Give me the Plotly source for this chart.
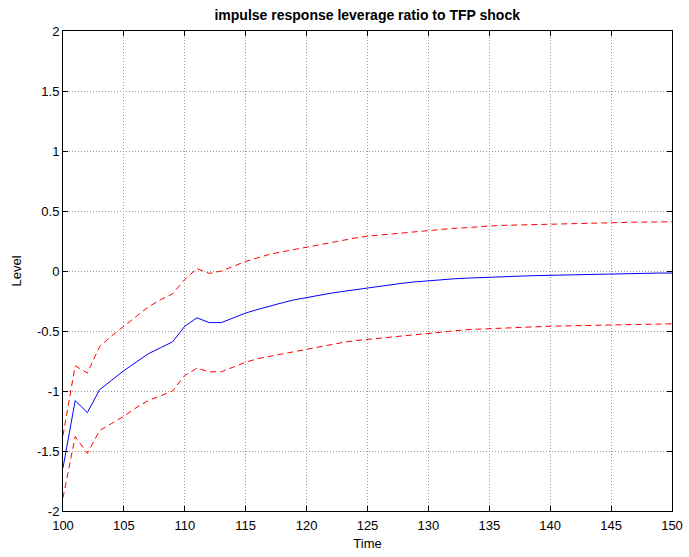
import plotly.graph_objects as go

time = list(range(100, 151))
mean_resp = [-1.64, -1.08, -1.18, -0.99, -0.91, -0.83, -0.76, -0.69, -0.64, -0.59,
             -0.46, -0.39, -0.43, -0.43, -0.39, -0.35, -0.32, -0.29, -0.265, -0.24,
             -0.22, -0.20, -0.185, -0.17, -0.155, -0.14, -0.13, -0.115, -0.10, -0.09,
             -0.08, -0.073, -0.066, -0.06, -0.055, -0.05, -0.047, -0.044, -0.041, -0.038,
             -0.036, -0.033, -0.03, -0.027, -0.024, -0.02, -0.019, -0.018, -0.018, -0.017,
             -0.017]
upper = [-1.37, -0.79, -0.85, -0.63, -0.54, -0.46, -0.38, -0.30, -0.24, -0.19,
         -0.07, 0.02, -0.02, 0.00, 0.04, 0.08, 0.11, 0.14, 0.16, 0.18,
         0.20, 0.22, 0.24, 0.26, 0.275, 0.29, 0.30, 0.31, 0.32, 0.33,
         0.34, 0.35, 0.355, 0.36, 0.37, 0.375, 0.38, 0.383, 0.386, 0.388,
         0.39, 0.393, 0.396, 0.399, 0.402, 0.405, 0.406, 0.407, 0.408, 0.409,
         0.41]
lower = [-1.89, -1.38, -1.52, -1.33, -1.27, -1.21, -1.14, -1.08, -1.04, -1.00,
         -0.87, -0.81, -0.84, -0.84, -0.80, -0.76, -0.73, -0.71, -0.69, -0.67,
         -0.65, -0.63, -0.61, -0.595, -0.58, -0.57, -0.56, -0.545, -0.535, -0.525,
         -0.515, -0.505, -0.497, -0.49, -0.485, -0.48, -0.475, -0.47, -0.466, -0.463,
         -0.46, -0.458, -0.456, -0.454, -0.452, -0.45, -0.448, -0.446, -0.444, -0.442,
         -0.44]
x_ticks = list(range(100, 151, 5))
y_ticks = [-2, -1.5, -1, -0.5, 0, 0.5, 1, 1.5, 2]
y_tick_text = ["-2", "-1.5", "-1", "-0.5", "0", "0.5", "1", "1.5", "2"]

fig = go.Figure()
fig.add_trace(go.Scatter(x=time, y=mean_resp, mode="lines",
                         line=dict(color="#0000ff", width=1)))
fig.add_trace(go.Scatter(x=time, y=upper, mode="lines",
                         line=dict(color="#ff0000", width=1, dash="6px,4px")))
fig.add_trace(go.Scatter(x=time, y=lower, mode="lines",
                         line=dict(color="#ff0000", width=1, dash="6px,4px")))

font = dict(family="Liberation Sans, Arial", size=13, color="black")
axis_common = dict(
    showline=True, linecolor="black", linewidth=1, mirror="ticks",
    ticks="inside", ticklen=5, tickcolor="black",
    showgrid=True, gridcolor="#9a9a9a", griddash="1px,2px", gridwidth=1,
    zeroline=False, automargin=False,
    tickfont=font,
)

fig.update_layout(
    width=689, height=557,
    paper_bgcolor="white", plot_bgcolor="white",
    margin=dict(l=63, r=17, t=31, b=46, autoexpand=False),
    showlegend=False,
    title=dict(text="<b>impulse response leverage ratio to TFP shock</b>",
               x=0.533, xanchor="center", y=0.973, yanchor="middle",
               font=dict(family="Liberation Sans, Arial", size=14, color="black")),
    xaxis=dict(range=[100, 150], tickvals=x_ticks, ticklabelstandoff=2,
               title=dict(text="Time", standoff=7, font=font),
               **axis_common),
    yaxis=dict(range=[-2, 2], tickvals=y_ticks, ticktext=y_tick_text,
               title=dict(text="Level", standoff=12, font=font),
               **axis_common),
)

fig.write_html("out.html", config={"displayModeBar": False},
               post_script="document.body.style.margin='0';document.body.style.overflow='hidden';")
